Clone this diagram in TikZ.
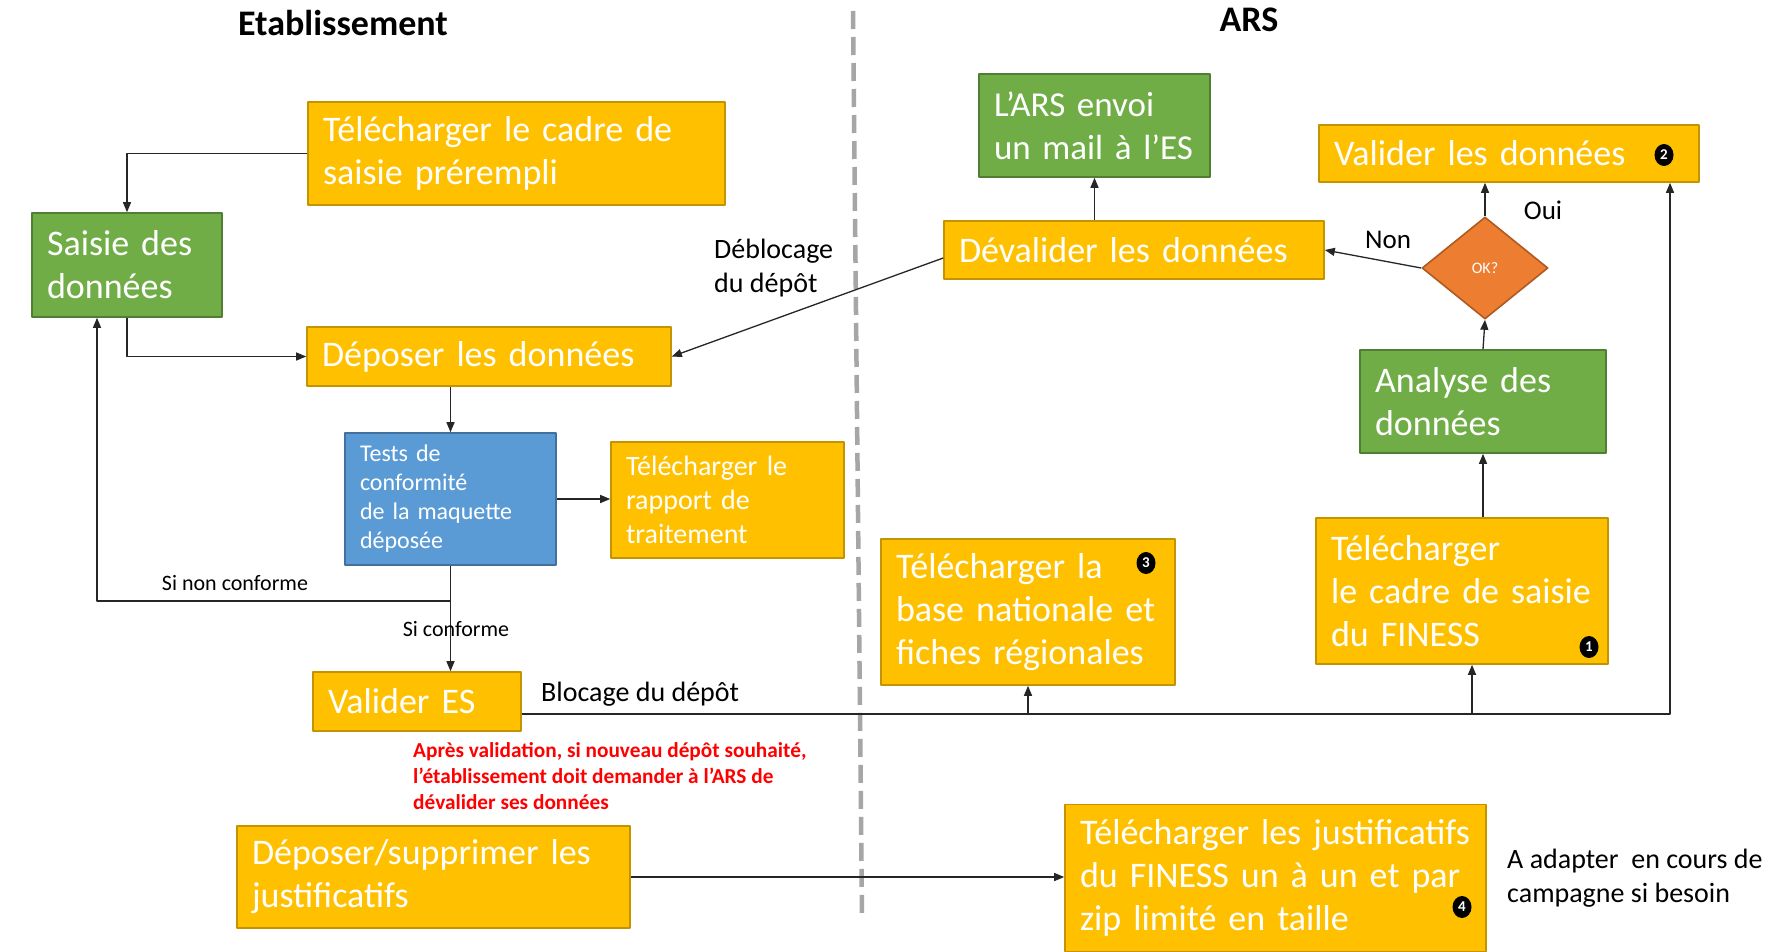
\documentclass[tikz,border=0pt]{standalone}
\usepackage{fontspec}
\setmainfont{Carlito}
\usetikzlibrary{arrows.meta,shapes.geometric}
\definecolor{jaune}{HTML}{FFC000}
\definecolor{jaunebord}{HTML}{C49300}
\definecolor{vert}{HTML}{70AD47}
\definecolor{vertbord}{HTML}{507E32}
\definecolor{bleu}{HTML}{5B9BD5}
\definecolor{bleubord}{HTML}{41719C}
\definecolor{orange}{HTML}{ED7D31}
\definecolor{orangebord}{HTML}{AE5A21}
\definecolor{trait}{HTML}{262626}
\definecolor{gris}{HTML}{A6A6A6}
\begin{document}
\begin{tikzpicture}[x=1pt,y=-1pt,>={Triangle[length=10pt,width=8pt]},line join=round,
  box/.style={draw,line width=1.6pt,inner xsep=15pt,inner ysep=0pt,align=left,text=white,font=\fontsize{36}{43}\selectfont},
  jbox/.style={box,fill=jaune,draw=jaunebord},
  vbox/.style={box,fill=vert,draw=vertbord},
  bbox/.style={box,fill=bleu,draw=bleubord},
  lbl/.style={inner sep=0pt,align=left,font=\fontsize{28}{34}\selectfont},
  titre/.style={inner sep=0pt,font=\bfseries\fontsize{36}{43}\selectfont},
  badge/.style={ellipse,fill=black,text=white,inner sep=0pt,minimum width=19pt,minimum height=22pt,font=\bfseries\fontsize{15}{15}\selectfont},
  lien/.style={->,line width=1.3pt,draw=trait}]
\useasboundingbox[fill=white] (0,0) rectangle (1776,951);
\node[titre] (etab) at (343,23) {Etablissement};
\node[titre] (ars) at (1249,20) {ARS};
\draw[gris,line width=4.5pt,dash pattern=on 18pt off 8pt] (853,11) -- (862,915);
% Etablissement
\node[jbox,text width=387pt,minimum height=103pt] (tcadre) at (516.5,153.5) {Télécharger le cadre de\\saisie prérempli};
\node[vbox,text width=160pt,minimum height=104pt] (saisie) at (127,265) {Saisie des\\données};
\node[jbox,text width=334pt,minimum height=59pt] (deposer) at (489,356.5) {Déposer les données};
\node[bbox,text width=181pt,minimum height=132pt,font=\fontsize{24}{29}\selectfont] (tests) at (450.5,499) {Tests de\\conformité\\de la maquette\\déposée};
\node[jbox,text width=203pt,minimum height=116pt,font=\fontsize{28}{34}\selectfont] (rapport) at (727.5,500) {Télécharger le\\rapport de\\traitement};
\node[jbox,text width=178pt,minimum height=59pt] (valES) at (417,701.5) {Valider ES};
\node[jbox,text width=363pt,minimum height=102pt] (depsup) at (433.5,877) {Déposer/supprimer les\\justificatifs};
% ARS
\node[vbox,text width=201pt,minimum height=103pt,font=\fontsize{35}{43}\selectfont] (mail) at (1094.5,125.5) {L’ARS envoi\\un mail à l’ES};
\node[jbox,text width=350pt,minimum height=58pt] (devalider) at (1134,250) {Dévalider les données};
\node[jbox,text width=350pt,minimum height=57pt] (valider) at (1509,153.5) {Valider les données};
\node[diamond,draw=orangebord,fill=orange,line width=1.6pt,inner sep=0pt,minimum width=126pt,minimum height=102pt,text=white,font=\fontsize{16}{16}\selectfont] (ok) at (1485,268) {OK?};
\node[vbox,text width=216pt,minimum height=103pt] (analyse) at (1483,401.5) {Analyse des\\données};
\node[jbox,text width=262pt,minimum height=146pt] (finess) at (1462,591) {Télécharger\\le cadre de saisie\\du FINESS};
\node[jbox,text width=264pt,minimum height=146pt] (base) at (1028,612) {Télécharger la\\base nationale et\\fiches régionales};
\node[jbox,text width=391pt,minimum height=147pt] (justif) at (1275.5,878) {Télécharger les justificatifs\\du FINESS un à un et par\\zip limité en taille};
\node[badge] (b2) at (1664,155) {2};
\node[badge] (b3) at (1146,563) {3};
\node[badge] (b1) at (1589,647) {1};
\node[badge] (b4) at (1462,907) {4};
% liens
\draw[lien] (tcadre.west) -| (saisie.north);
\draw[lien] (saisie.south) |- (deposer.west);
\draw[lien] (tests.north |- deposer.south) -- (tests.north);
\draw[lien] (tests.east) -- (tests.east -| rapport.west);
\draw[lien] (tests.south) -- (tests.south |- valES.north);
\coordinate (nonconf) at (tests.south |- 0,601);
\draw[lien] (nonconf) -| ([xshift=-30pt]saisie.south);
\draw[lien] ([yshift=-8pt]devalider.west) -- (deposer.east);
\draw[lien] (mail.south |- devalider.north) -- (mail.south);
\draw[lien] (ok.west) -- (devalider.east);
\draw[lien] (ok.north) -- (ok.north |- valider.south);
\draw[lien] (analyse.north) -- (ok.south);
\draw[lien] (analyse.south |- finess.north) -- (analyse.south);
\coordinate (blocage) at ([yshift=-12.5pt]valES.east);
\coordinate (finbas) at ([xshift=10pt]finess.south);
\draw[lien] (blocage) -| ([xshift=161pt]valider.south);
\draw[lien] (blocage -| base.south) -- (base.south);
\draw[lien] (blocage -| finbas) -- (finbas);
\draw[lien] (depsup.east) -- (depsup.east -| justif.west);
% textes
\node[lbl,anchor=west] (debloc) at (714,268) {Déblocage\\du dépôt};
\node[lbl,font=\fontsize{22}{26}\selectfont] (nonconfl) at (235,583) {Si non conforme};
\node[lbl,font=\fontsize{22}{26}\selectfont] (confl) at (456,629) {Si conforme};
\node[lbl,anchor=west] (blocl) at (541,694) {Blocage du dépôt};
\node[lbl,font=\fontsize{27}{32}\selectfont] (non) at (1388,240) {Non};
\node[lbl,font=\fontsize{27}{32}\selectfont] (oui) at (1543,210) {Oui};
\node[lbl,anchor=west,font=\fontsize{28}{34}\selectfont] (adapter) at (1507,878) {A adapter\ \ en cours de\\campagne si besoin};
\node[lbl,anchor=west,text=red,font=\bfseries\fontsize{21.3}{26}\selectfont] (rouge) at (413,776) {Après validation, si nouveau dépôt souhaité,\\l’établissement doit demander à l’ARS de\\dévalider ses données};
\end{tikzpicture}
\end{document}
